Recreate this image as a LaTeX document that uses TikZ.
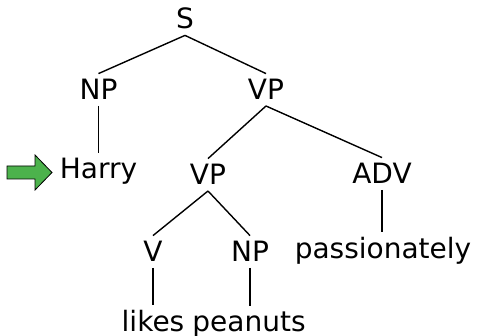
\documentclass[tikz,border=0pt]{standalone}
\usepackage{fontspec}
\setmainfont{DejaVu Sans}
\definecolor{arrowgreen}{RGB}{76,178,76}
\begin{document}
\begin{tikzpicture}[x=1pt,y=-1pt,
  cat/.style={anchor=base,inner sep=6pt,outer sep=0pt,font=\fontsize{28}{34}\selectfont},
  branch/.style={line width=1.4pt,black}]
\useasboundingbox (0,0) rectangle (477,336);

% tree nodes (positions are baselines)
\node[cat] (S)     at (185,29)   {S};
\node[cat] (NP)    at (98.5,100) {NP};
\node[cat] (VP)    at (266,100)  {VP};
\node[cat] (Harry) at (98.5,179) {Harry};
\node[cat] (VPb)   at (208,185)  {VP};
\node[cat] (ADV)   at (382,184)  {ADV};
\node[cat] (V)     at (153,262)  {V};
\node[cat] (NPb)   at (250,262)  {NP};
\node[cat] (adv)   at (383,259)  {passionately};
\node[cat] (likes) at (153,332)  {likes};
\node[cat] (pean)  at (249,332)  {peanuts};

% branches
\draw[branch] (S.south) -- (NP.north);
\draw[branch] (S.south) -- (VP.north);
\draw[branch] (NP.south) -- (NP.south |- Harry.north);
\draw[branch] (VP.south) -- (VPb.north);
\draw[branch] (VP.south) -- (ADV.north);
\draw[branch] (VPb.south) -- (V.north);
\draw[branch] (VPb.south) -- (NPb.north);
\draw[branch] (ADV.south) -- (ADV.south |- adv.north);
\draw[branch] (V.south) -- (V.south |- likes.north);
\draw[branch] (NPb.south) -- (NPb.south |- pean.north);

% pointer arrow
\draw[fill=arrowgreen,line width=0.8pt,line join=miter]
  (7,166) -- (35,166) -- (35,155) -- (52,172.5) -- (35,190) -- (35,179) -- (7,179) -- cycle;
\end{tikzpicture}
\end{document}
